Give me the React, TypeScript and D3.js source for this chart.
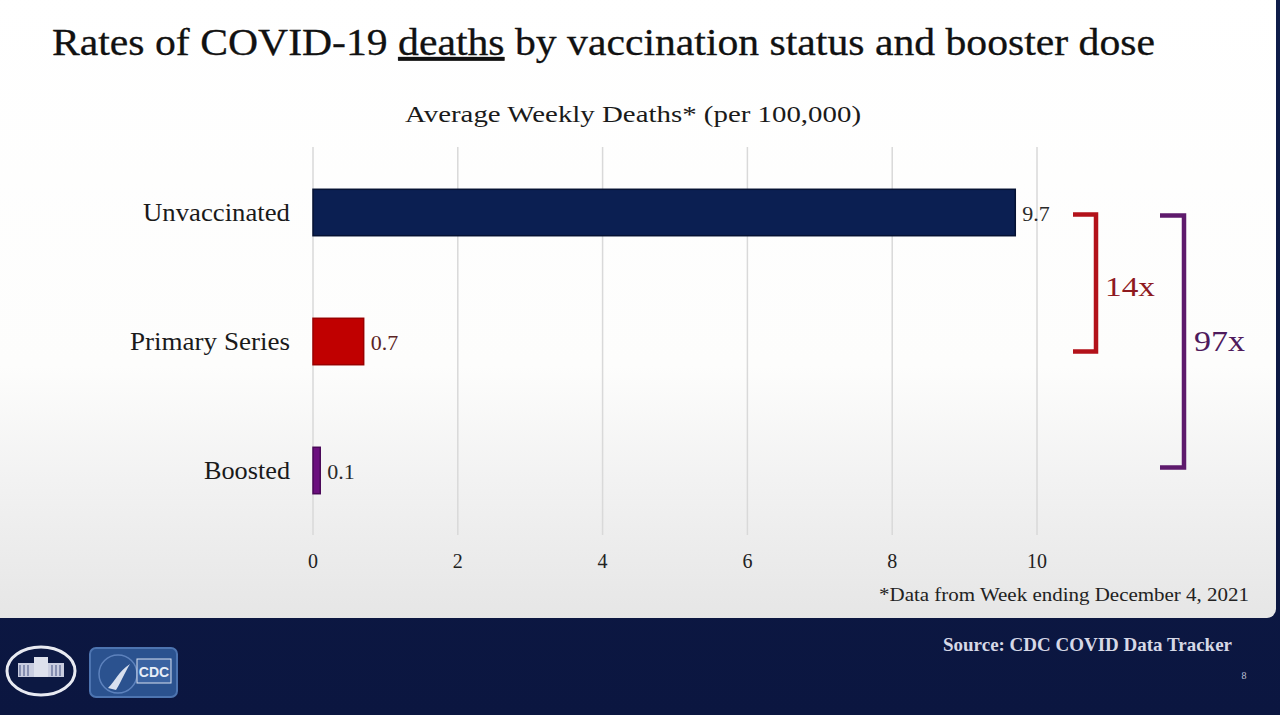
import React from "react";
import * as d3 from "d3";

const categories = ["Unvaccinated", "Primary Series", "Boosted"];
const values = [9.7, 0.7, 0.1];
const valueLabels = ["9.7", "0.7", "0.1"];
const xTicks = [0, 2, 4, 6, 8, 10];
const barColors = ["#0b1f52", "#c00000", "#6b0f7e"];
const barStrokes = ["#061233", "#9a0000", "#4a0858"];
const valueColors = ["#2a2a2a", "#5a2424", "#2a2a2a"];
const ratioLabels = ["14x", "97x"];
const catLabelWidths = [147, 160, 86];

const W = 1280;
const H = 715;
const FONT = "'Liberation Serif', 'DejaVu Serif', serif";

export default function App() {
  const x = d3.scaleLinear().domain([0, 10]).range([313, 1037]);
  const y = d3
    .scaleBand<string>()
    .domain(categories)
    .range([148, 535])
    .paddingInner(0.64)
    .paddingOuter(0.32);
  const bw = y.bandwidth();
  const yc = (c: string) => (y(c) as number) + bw / 2;

  const yTop = yc(categories[0]);
  const yMid = yc(categories[1]);
  const yBot = yc(categories[2]);

  return (
    <svg
      width={W}
      height={H}
      style={{ position: "absolute", left: 0, top: 0 }}
      fontFamily={FONT}
    >
      <defs>
        <linearGradient id="panel" x1="0" y1="0" x2="0" y2="1">
          <stop offset="0" stopColor="#ffffff" />
          <stop offset="0.6" stopColor="#fdfdfc" />
          <stop offset="0.78" stopColor="#f2f2f2" />
          <stop offset="1" stopColor="#e6e6e6" />
        </linearGradient>
        <linearGradient id="footer" x1="0" y1="0" x2="0" y2="1">
          <stop offset="0" stopColor="#0f1d4a" />
          <stop offset="1" stopColor="#0b1640" />
        </linearGradient>
      </defs>
      <rect x={0} y={0} width={W} height={H} fill="url(#footer)" />
      <rect x={-12} y={-12} width={1288} height={630} rx={9} fill="url(#panel)" />

      {/* Title */}
      <text x={52} y={55} fontSize={38} fill="#111" stroke="#111" strokeWidth={0.3} textLength={1103} lengthAdjust="spacingAndGlyphs">
        Rates of COVID-19{" "}
        <tspan style={{ textDecoration: "underline" }}>deaths</tspan> by vaccination status and booster dose
      </text>

      {/* Axis title */}
      <text x={633} y={122} fontSize={23} fill="#1a1a1a" textAnchor="middle" textLength={456} lengthAdjust="spacingAndGlyphs">
        Average Weekly Deaths* (per 100,000)
      </text>

      {/* Gridlines */}
      {xTicks.map((t) => (
        <line key={t} x1={x(t)} x2={x(t)} y1={147} y2={535} stroke="#d9d9d9" strokeWidth={1.5} />
      ))}

      {/* Tick labels */}
      {xTicks.map((t) => (
        <text key={"t" + t} x={x(t)} y={568} fontSize={20} fill="#222" textAnchor="middle">
          {t}
        </text>
      ))}

      {/* Bars */}
      {categories.map((c, i) => (
        <g key={c}>
          <rect
            x={x(0)}
            y={y(c)}
            width={x(values[i]) - x(0)}
            height={bw}
            fill={barColors[i]}
            stroke={barStrokes[i]}
            strokeWidth={1.5}
          />
          <text
            x={290}
            y={yc(c) + 8}
            fontSize={25}
            fill="#1a1a1a"
            textAnchor="end"
            textLength={catLabelWidths[i]}
            lengthAdjust="spacingAndGlyphs"
          >
            {c}
          </text>
          <text x={x(values[i]) + 7} y={yc(c) + 8} fontSize={22} fill={valueColors[i]}>
            {valueLabels[i]}
          </text>
        </g>
      ))}

      {/* Red bracket: Unvaccinated vs Primary */}
      <path
        d={`M1073,${yTop + 2} H1096 V${yMid + 10} H1073`}
        fill="none"
        stroke="#b3121a"
        strokeWidth={4.5}
      />
      <text x={1105} y={296} fontSize={28} fill="#8e1a1f" textLength={50} lengthAdjust="spacingAndGlyphs">
        {ratioLabels[0]}
      </text>

      {/* Purple bracket: Unvaccinated vs Boosted */}
      <path
        d={`M1160,${yTop + 3} H1184 V${yBot - 3} H1160`}
        fill="none"
        stroke="#5e1a6c"
        strokeWidth={4.5}
      />
      <text x={1194} y={351} fontSize={30} fill="#4e1a5c" textLength={51} lengthAdjust="spacingAndGlyphs">
        {ratioLabels[1]}
      </text>

      {/* Footnote */}
      <text x={1249} y={601} fontSize={19} fill="#222" textAnchor="end" textLength={370} lengthAdjust="spacingAndGlyphs">
        *Data from Week ending December 4, 2021
      </text>

      {/* Footer */}
      <text x={1232} y={651} fontSize={19} fill="#d6d8e6" fontWeight="bold" textAnchor="end" textLength={289} lengthAdjust="spacingAndGlyphs">
        Source: CDC COVID Data Tracker
      </text>
      <text x={1244} y={679} fontSize={10} fill="#bfc3d6" textAnchor="middle">
        8
      </text>

      {/* White House logo */}
      <ellipse cx={41} cy={671} rx={34} ry={24} fill="#0c1842" stroke="#e8eaf2" strokeWidth={3} />
      <rect x={18} y={663} width={46} height={14} fill="#c9cde0" />
      <rect x={34} y={657} width={14} height={20} fill="#dde0ec" />
      {[20, 24, 28, 52, 56, 60].map((cx) => (
        <line key={cx} x1={cx} x2={cx} y1={665} y2={676} stroke="#5a6590" strokeWidth={1.2} />
      ))}

      {/* CDC logo */}
      <rect x={90} y={648} width={87} height={49} rx={6} fill="#2b528f" stroke="#4d74b0" strokeWidth={2} />
      <circle cx={118} cy={674} r={19} fill="none" stroke="#5d82bd" strokeWidth={1.5} />
      <path d="M108,688 C116,680 118,672 130,664 C124,674 122,680 116,690 Z" fill="#d8e0ef" />
      <rect x={137} y={659} width={34} height={24} fill="#3b63a2" stroke="#d8e0ef" strokeWidth={1} />
      <text x={154} y={677} fontSize={14} fontWeight="bold" fill="#e8eef8" textAnchor="middle" fontFamily="'Liberation Sans', sans-serif">
        CDC
      </text>
    </svg>
  );
}
